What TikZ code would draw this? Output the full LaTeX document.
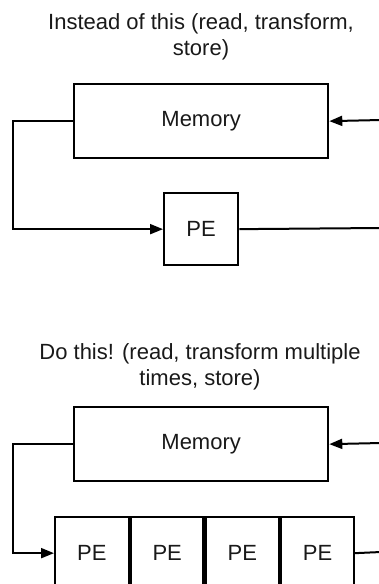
\documentclass[tikz,border=0pt]{standalone}
\usepackage{fontspec}
\setmainfont{Liberation Sans}
\usetikzlibrary{arrows.meta}
\begin{document}
\begin{tikzpicture}[x=1pt,y=-1pt,
  every node/.style={font=\fontsize{22}{26}\selectfont, text=black!90},
  box/.style={draw, line width=2.3pt, inner sep=0pt, anchor=north west},
  wire/.style={line width=2pt},
  arr/.style={wire, -{Triangle[length=13pt,width=10pt]}},
  title/.style={align=center}]
\useasboundingbox (0,0) rectangle (379,584);
% top part
\node[title] (t1) at (201,37) {Instead of this (read, transform,\\store)};
\node[box, minimum width=254pt, minimum height=74pt] (mem1) at (73,83) {Memory};
\node[box, minimum width=74pt, minimum height=72pt] (pe1) at (163,192) {PE};
\coordinate (r1a) at (381,120);
\coordinate (r1b) at (381,228);
\draw[arr] (mem1.west) -- ++(-60,0) |- (pe1.west);
\draw[wire] (pe1.east) -- (r1b);
\draw[arr] (r1a) -- (mem1.east);
% bottom part
\node[title] (t2) at (200,366.5) {Do this! (read, transform multiple\\times, store)};
\node[box, minimum width=254pt, minimum height=74pt] (mem2) at (73,406) {Memory};
\node[box, minimum width=73.5pt, minimum height=72pt] (pa) at (54,516) {PE};
\node[box, minimum width=72.5pt, minimum height=72pt] (pb) at (pa.north east) {PE};
\node[box, minimum width=73pt, minimum height=72pt] (pc) at (pb.north east) {PE};
\node[box, minimum width=73pt, minimum height=72pt] (pd) at (pc.north east) {PE};
\coordinate (r2a) at (381,443);
\coordinate (r2b) at (381,552);
\draw[arr] (mem2.west) -- ++(-60,0) |- (pa.west);
\draw[wire] (pd.east) -- (r2b);
\draw[arr] (r2a) -- (mem2.east);
\end{tikzpicture}
\end{document}
